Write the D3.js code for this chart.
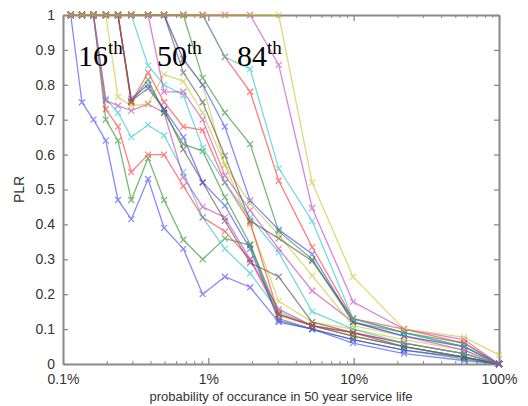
<!DOCTYPE html>
<html lang="en">
<head>
<meta charset="UTF-8">
<script src="https://d3js.org/d3.v7.min.js"></script>
<title>PLR</title>
<style>
body { margin: 0; background: #fff; }
svg text { font-family: "Liberation Sans", Arial, sans-serif; }
.axis path, .axis line { stroke: #8a8a8a; }
.axis text { fill: #333; font-size: 14px; }
</style>
</head>
<body>
<div class="content"></div>
<script>
// probability of occurance (%) for each analysis level
var probs = [0.113, 0.135, 0.162, 0.197, 0.239, 0.295, 0.385, 0.496, 0.673, 0.914, 1.30, 1.94, 3.05, 5.18, 9.9, 22.2, 57.5, 100];

// PLR for each record
var plr = [
    [1, .75, .70, .64, .47, .415, .53, .39, .33, .20, .25, .22, .12, .10, .06, .03, .01, 0],
    [1, 1, 1, .70, .64, .47, .59, .47, .356, .30, .36, .34, .13, .10, .07, .04, .015, 0],
    [1, 1, 1, .73, .68, .55, .60, .60, .51, .42, .38, .30, .14, .11, .08, .05, .02, 0],
    [1, 1, 1, .76, .72, .65, .685, .655, .55, .42, .33, .26, .15, .11, .09, .05, .02, 0],
    [1, 1, 1, .755, .74, .726, .745, .72, .535, .45, .42, .30, .157, .11, .09, .05, .02, 0],
    [1, 1, 1, 1, .765, .74, .745, .83, .81, .72, .57, .40, .18, .12, .10, .07, .04, 0],
    [1, 1, 1, 1, 1, .754, .79, .73, .615, .52, .41, .29, .25, .12, .09, .06, .03, 0],
    [1, 1, 1, 1, 1, .76, .80, .73, .65, .52, .454, .33, .124, .10, .07, .04, .02, 0],
    [1, 1, 1, 1, 1, .75, .815, .72, .63, .61, .478, .343, .143, .11, .08, .05, .02, 0],
    [1, 1, 1, 1, 1, .75, .835, .75, .68, .67, .52, .405, .143, .11, .09, .06, .03, 0],
    [1, 1, 1, 1, 1, 1, .855, .80, .77, .62, .52, .42, .32, .15, .10, .06, .03, 0],
    [1, 1, 1, 1, 1, 1, 1, .78, .78, .70, .54, .44, .33, .21, .12, .08, .04, 0],
    [1, 1, 1, 1, 1, 1, 1, 1, .87, .80, .57, .46, .37, .253, .11, .08, .05, 0],
    [1, 1, 1, 1, 1, 1, 1, 1, .835, .75, .597, .41, .36, .295, .13, .09, .05, 0],
    [1, 1, 1, 1, 1, 1, 1, 1, .874, .80, .68, .468, .385, .315, .12, .08, .05, 0],
    [1, 1, 1, 1, 1, 1, 1, 1, 1, .82, .72, .63, .38, .30, .12, .09, .06, 0],
    [1, 1, 1, 1, 1, 1, 1, 1, 1, 1, .88, .78, .525, .335, .13, .10, .06, 0],
    [1, 1, 1, 1, 1, 1, 1, 1, 1, 1, .88, .845, .56, .41, .13, .09, .05, 0],
    [1, 1, 1, 1, 1, 1, 1, 1, 1, 1, 1, 1, .857, .447, .178, .10, .07, 0],
    [1, 1, 1, 1, 1, 1, 1, 1, 1, 1, 1, 1, 1, .52, .25, .10, .077, .026]
];

// matlab style colour cycle b g r c m y k
var colors = ['#3a3aff', '#1f8a1f', '#ff2a2a', '#22c4c4', '#c236c2', '#c8c424', '#4a4a4a'];

var xTicks = [0.1, 1, 10, 100];
var xTickLabels = ['0.1%', '1%', '10%', '100%'];
var yTicks = [0, 0.1, 0.2, 0.3, 0.4, 0.5, 0.6, 0.7, 0.8, 0.9, 1];
var percentiles = [{ n: '16', x: 0.127 }, { n: '50', x: 0.444 }, { n: '84', x: 1.575 }];

var p = { width: 528, height: 406, left: 63, right: 499, top: 15, bottom: 364 };

var svg = d3.select('.content').append('svg')
    .attr('width', p.width)
    .attr('height', p.height);

var x = d3.scaleLog().domain([0.1, 100]).range([p.left, p.right]);
var y = d3.scaleLinear().domain([0, 1]).range([p.bottom, p.top]);

// minor ticks of the log axis
var minor = [];
[0.1, 1, 10].forEach(function(d) {
    for (var k = 2; k <= 9; k++) minor.push(d * k);
});

function styleAxis(g) {
    g.selectAll('path').attr('stroke-width', 2);
    g.selectAll('line').attr('stroke-width', 1.3);
}

svg.append('g').attr('class', 'axis')
    .attr('transform', 'translate(0,' + p.bottom + ')')
    .call(d3.axisBottom(x).tickValues(minor).tickSize(-3).tickFormat(''))
    .call(function(g) { g.select('path').remove(); });
svg.append('g').attr('class', 'axis')
    .attr('transform', 'translate(0,' + p.top + ')')
    .call(d3.axisTop(x).tickValues(minor).tickSize(-3).tickFormat(''))
    .call(function(g) { g.select('path').remove(); });

svg.append('g').attr('class', 'axis')
    .attr('transform', 'translate(0,' + p.bottom + ')')
    .call(d3.axisBottom(x).tickValues(xTicks).tickSize(-6).tickSizeOuter(0).tickPadding(10)
        .tickFormat(function(d, i) { return xTickLabels[i]; }))
    .call(styleAxis);
svg.append('g').attr('class', 'axis')
    .attr('transform', 'translate(0,' + p.top + ')')
    .call(d3.axisTop(x).tickValues(xTicks).tickSize(-6).tickSizeOuter(0).tickFormat(''))
    .call(styleAxis);
svg.append('g').attr('class', 'axis')
    .attr('transform', 'translate(' + p.left + ',0)')
    .call(d3.axisLeft(y).tickValues(yTicks).tickSize(-5).tickSizeOuter(0).tickPadding(8)
        .tickFormat(function(d) { return d3.format('')(+d.toFixed(1)); }))
    .call(styleAxis);
svg.append('g').attr('class', 'axis')
    .attr('transform', 'translate(' + p.right + ',0)')
    .call(d3.axisRight(y).tickValues(yTicks).tickSize(-5).tickSizeOuter(0).tickFormat(''))
    .call(styleAxis);

// records
var line = d3.line()
    .x(function(d, i) { return x(probs[i]); })
    .y(function(d) { return y(d); });

plr.forEach(function(rec, j) {
    var c = colors[j % colors.length];
    var g = svg.append('g').attr('opacity', 0.6);
    g.append('path')
        .attr('d', line(rec))
        .attr('fill', 'none')
        .attr('stroke', c)
        .attr('stroke-width', 1.3);
    g.selectAll('.mk').data(rec).enter().append('path')
        .attr('transform', function(d, i) { return 'translate(' + x(probs[i]) + ',' + y(d) + ')'; })
        .attr('d', 'M-3,-3L3,3M-3,3L3,-3')
        .attr('stroke', c)
        .attr('stroke-width', 1.2);
});

// percentile labels
percentiles.forEach(function(d) {
    var t = svg.append('text')
        .attr('x', x(d.x))
        .attr('y', 66)
        .style('font-family', '"Liberation Serif", "Times New Roman", serif')
        .style('font-size', '30px')
        .attr('fill', '#000')
        .text(d.n);
    t.append('tspan')
        .attr('dy', -12)
        .style('font-size', '19px')
        .text('th');
});

svg.append('text')
    .attr('transform', 'translate(24,' + y(0.5) + ') rotate(-90)')
    .attr('text-anchor', 'middle')
    .attr('fill', '#333')
    .style('font-size', '14px')
    .text('PLR');

svg.append('text')
    .attr('x', (p.left + p.right) / 2)
    .attr('y', 401)
    .attr('text-anchor', 'middle')
    .attr('fill', '#333')
    .style('font-size', '13px')
    .text('probability of occurance in 50 year service life');
</script>
</body>
</html>
